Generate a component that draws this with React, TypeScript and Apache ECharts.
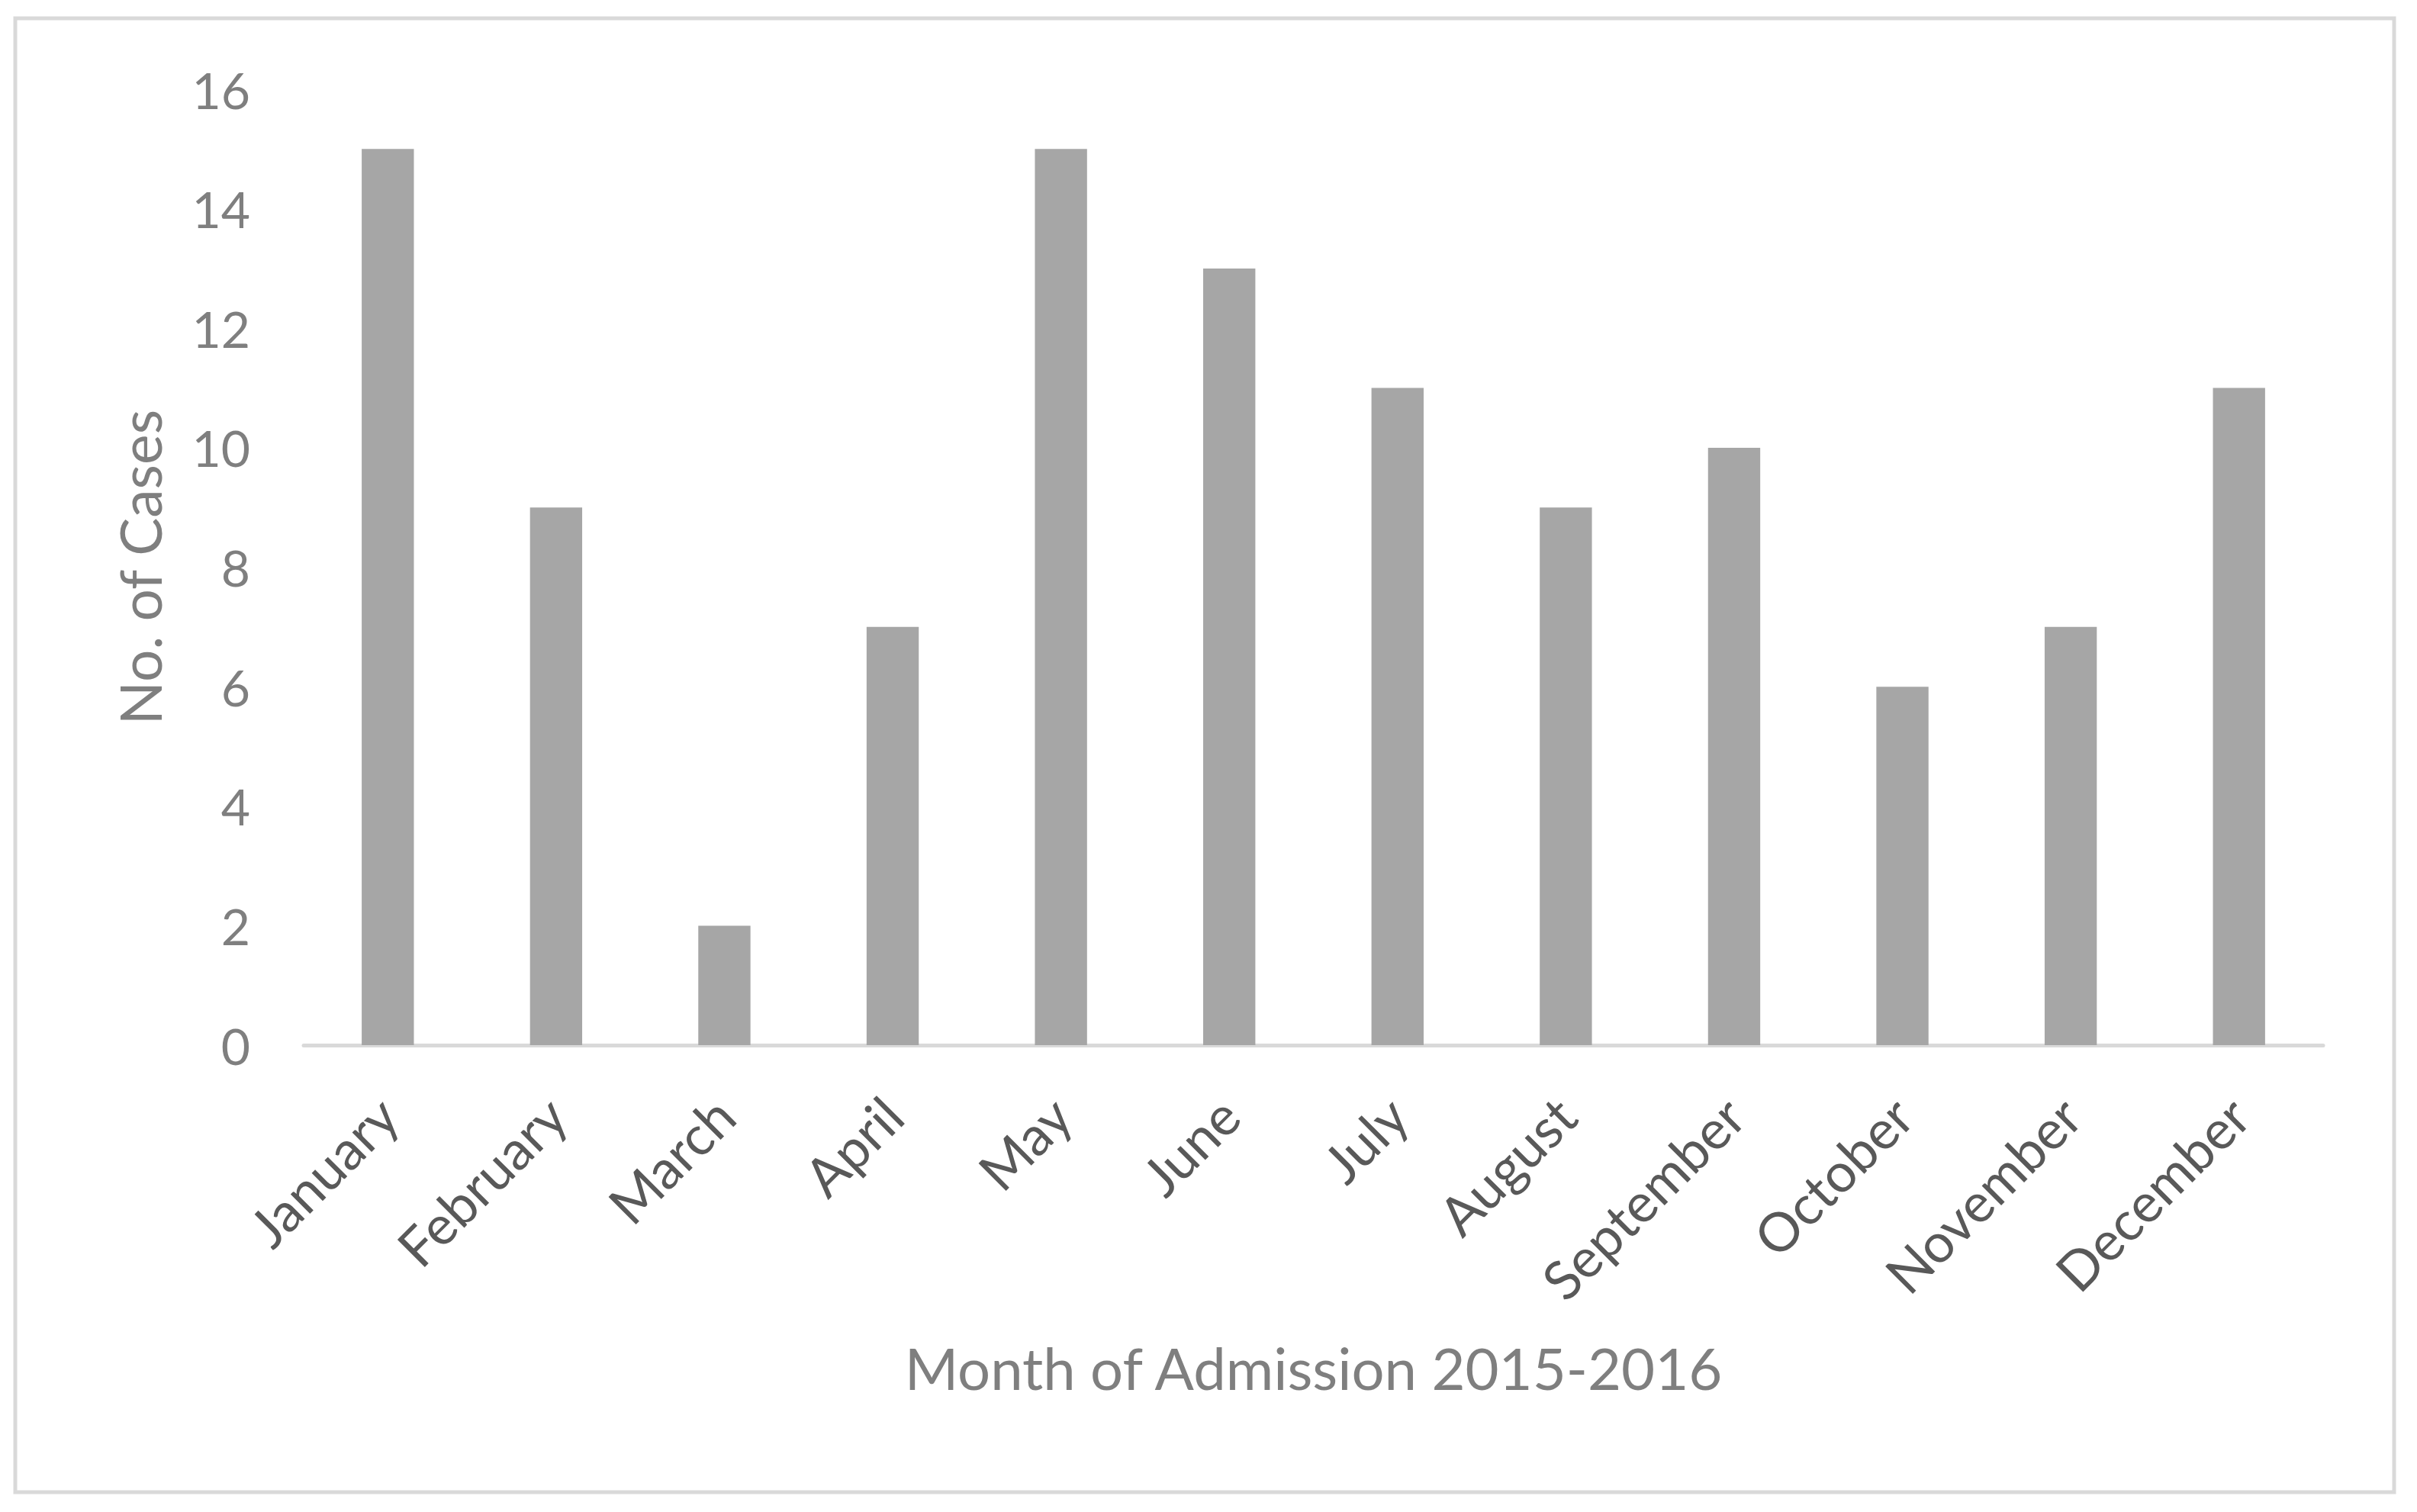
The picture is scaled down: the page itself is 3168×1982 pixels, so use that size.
import React, { useEffect, useRef } from "react";
import * as echarts from "echarts";

const months = [
  "January", "February", "March", "April", "May", "June",
  "July", "August", "September", "October", "November", "December",
];
const cases = [15, 9, 2, 7, 15, 13, 11, 9, 10, 6, 7, 11];
const yTicks = { min: 0, max: 16, interval: 2 };
const xAxisTitle = "Month of Admission 2015-2016";
const yAxisTitle = "No. of Cases";

const FONT = "Lato, 'Open Sans', sans-serif";

export default function App() {
  const ref = useRef<HTMLDivElement>(null);
  useEffect(() => {
    if (!ref.current) return;
    const chart = echarts.init(ref.current, undefined, { renderer: "svg" });
    chart.setOption({
      animation: false,
      backgroundColor: "#ffffff",
      textStyle: { fontFamily: FONT },
      grid: { left: 398, right: 123, top: 117, bottom: 612, containLabel: false },
      graphic: [
        {
          type: "rect",
          shape: { x: 20, y: 24, width: 3118, height: 1932 },
          style: { fill: "none", stroke: "#d9d9d9", lineWidth: 5 },
          silent: true,
        },
      ],
      xAxis: {
        type: "category",
        data: months,
        name: xAxisTitle,
        nameLocation: "middle",
        nameGap: 384,
        nameTextStyle: { fontSize: 76, color: "#7f7f7f", fontFamily: FONT },
        axisLine: { show: true, lineStyle: { color: "#d9d9d9", width: 5 } },
        axisTick: { show: false },
        axisLabel: {
          rotate: 45,
          fontSize: 71,
          color: "#595959",
          margin: 80,
          interval: 0,
          fontFamily: FONT,
        },
      },
      yAxis: {
        type: "value",
        min: yTicks.min,
        max: yTicks.max,
        interval: yTicks.interval,
        name: yAxisTitle,
        nameLocation: "middle",
        nameGap: 178,
        nameTextStyle: { fontSize: 75, color: "#7f7f7f", fontFamily: FONT },
        axisLine: { show: false },
        axisTick: { show: false },
        splitLine: { show: false },
        axisLabel: { fontSize: 66, color: "#7f7f7f", margin: 70, fontFamily: FONT },
      },
      series: [
        {
          type: "bar",
          data: cases,
          barWidth: "31%",
          itemStyle: { color: "#a6a6a6" },
        },
      ],
    });
    return () => chart.dispose();
  }, []);
  return (
    <div
      ref={ref}
      style={{ position: "fixed", left: 0, top: 0, width: 3168, height: 1982 }}
    />
  );
}
